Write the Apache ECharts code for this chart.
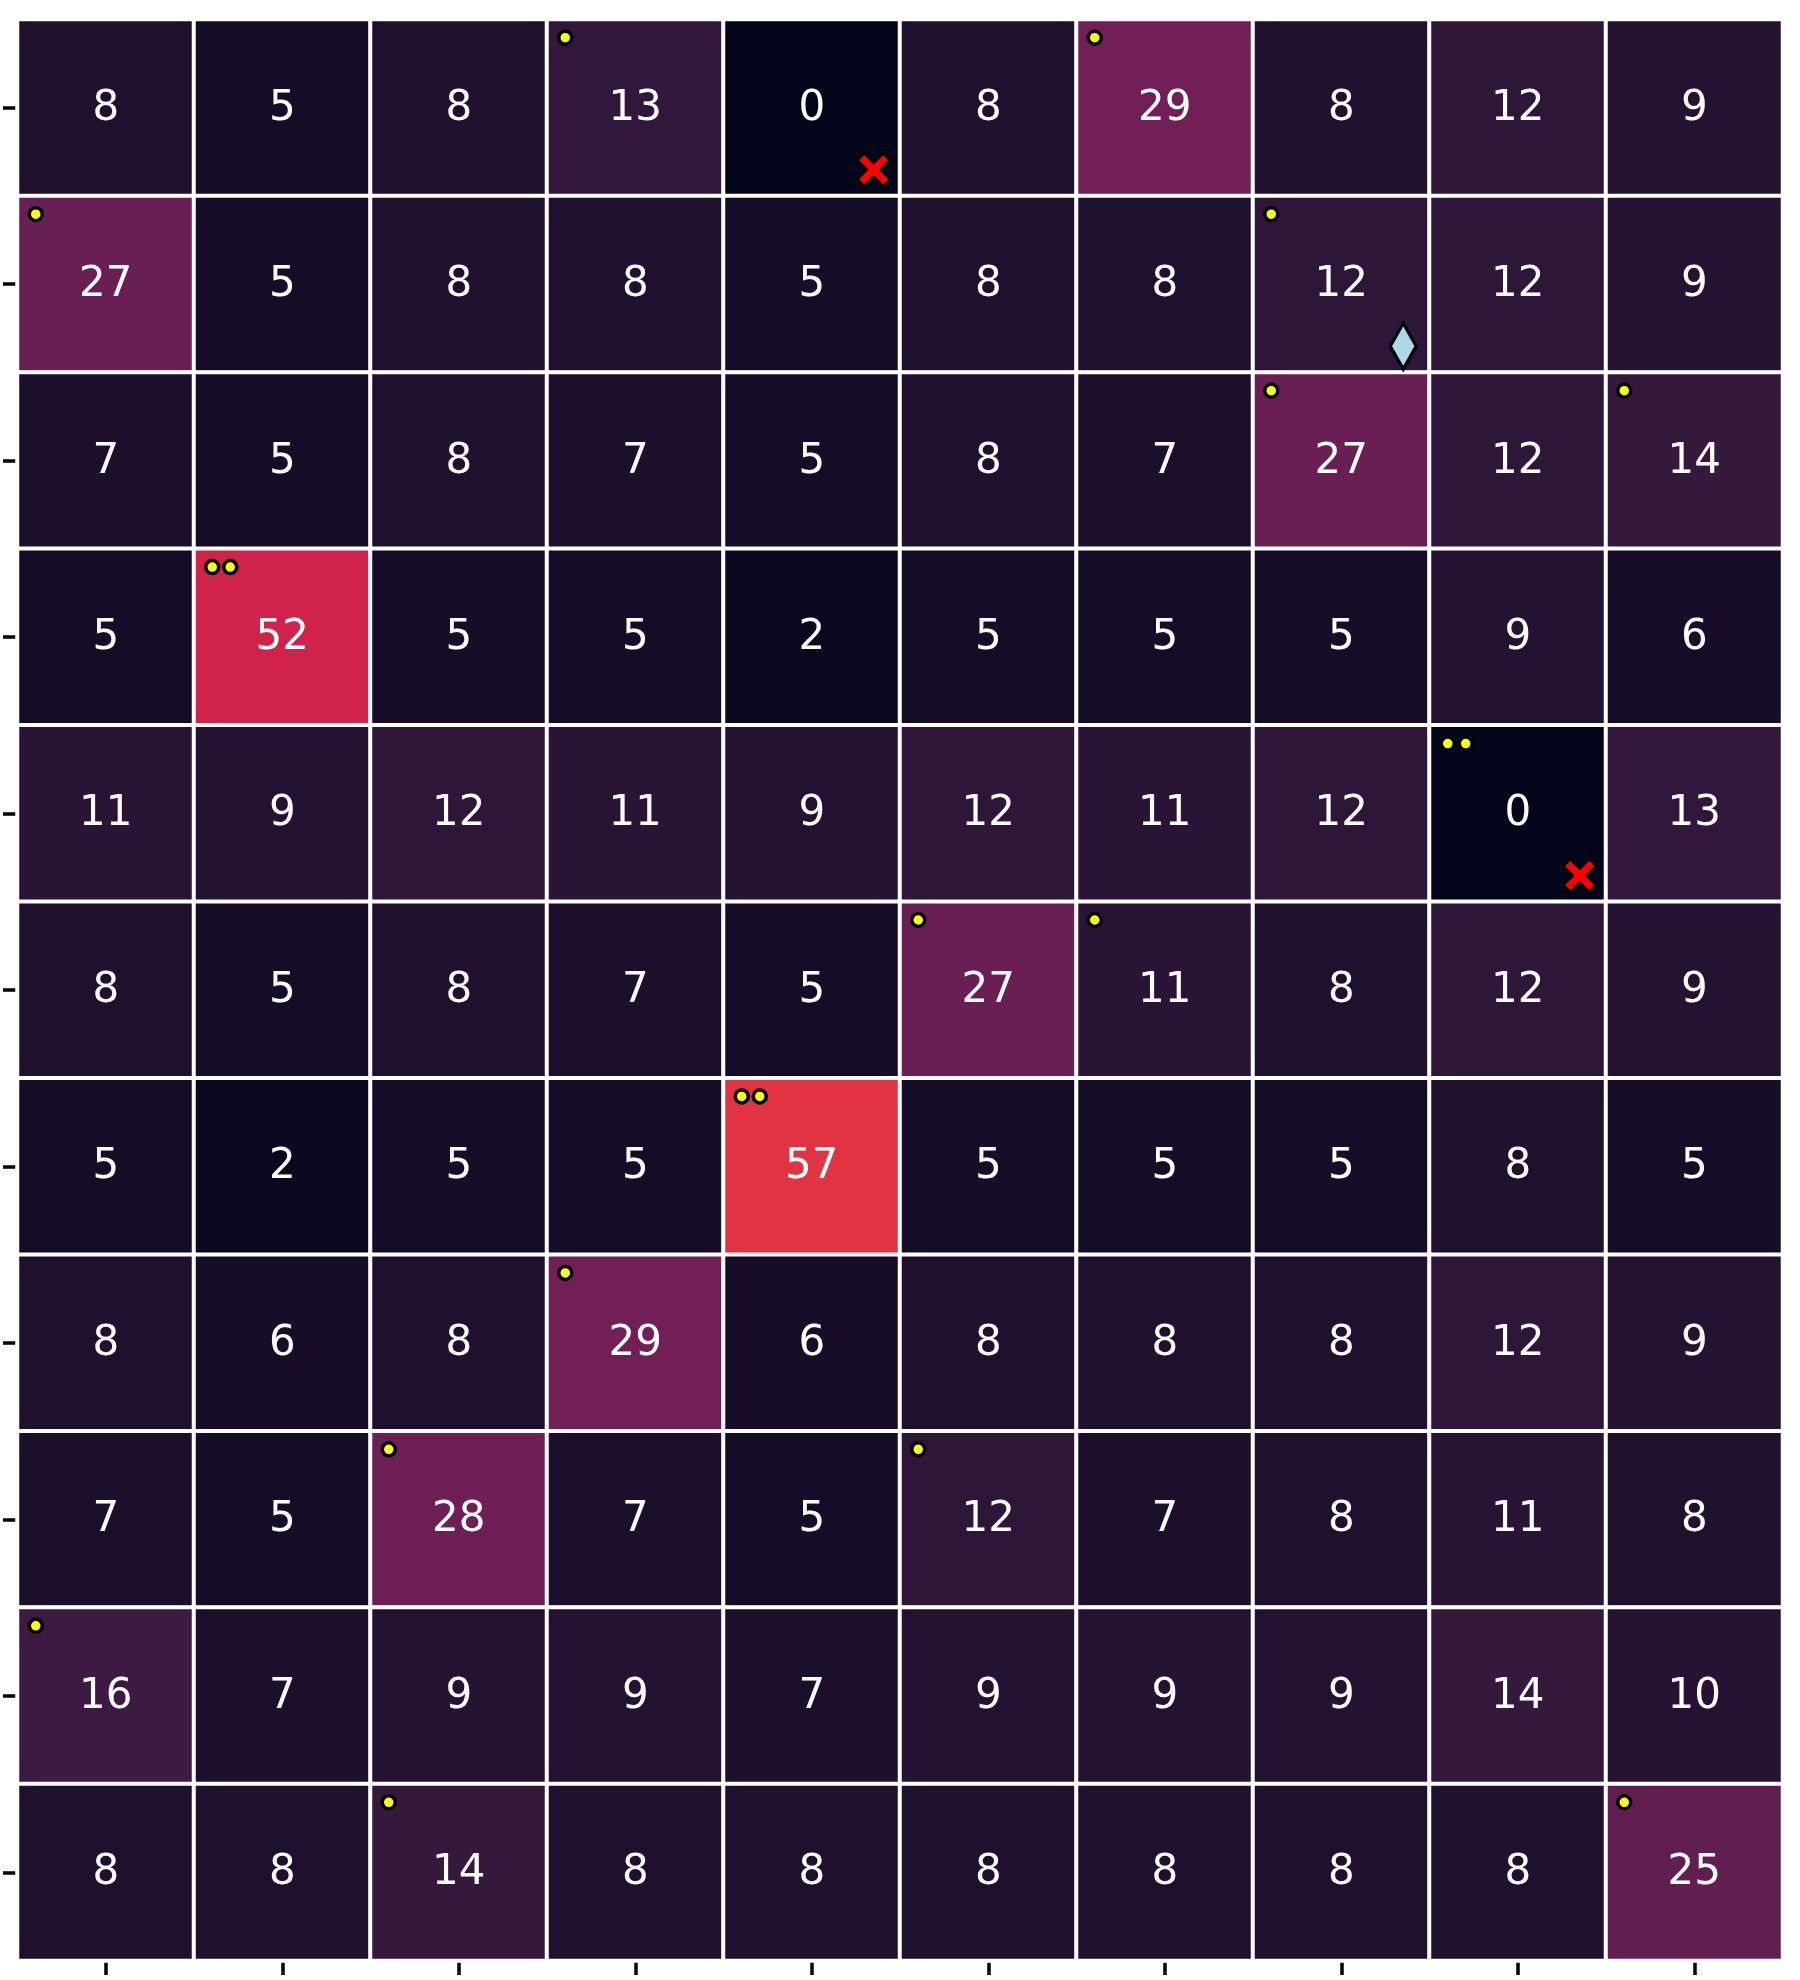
<!DOCTYPE html>
<html>
<head>
<meta charset="utf-8">
<script src="https://cdn.jsdelivr.net/npm/echarts@6/dist/echarts.min.js"></script>
<style>
  html, body { margin: 0; padding: 0; background: #ffffff; }
  #chart { width: 1800px; height: 1980px; }
</style>
</head>
<body>
<div id="chart"></div>
<script>
// ---- data (rows top to bottom, 10 columns each) ----
const columns = ['0', '1', '2', '3', '4', '5', '6', '7', '8', '9'];
const rowNames = ['0', '1', '2', '3', '4', '5', '6', '7', '8', '9', '10'];

const row00 = [8, 5, 8, 13, 0, 8, 29, 8, 12, 9];
const row01 = [27, 5, 8, 8, 5, 8, 8, 12, 12, 9];
const row02 = [7, 5, 8, 7, 5, 8, 7, 27, 12, 14];
const row03 = [5, 52, 5, 5, 2, 5, 5, 5, 9, 6];
const row04 = [11, 9, 12, 11, 9, 12, 11, 12, 0, 13];
const row05 = [8, 5, 8, 7, 5, 27, 11, 8, 12, 9];
const row06 = [5, 2, 5, 5, 57, 5, 5, 5, 8, 5];
const row07 = [8, 6, 8, 29, 6, 8, 8, 8, 12, 9];
const row08 = [7, 5, 28, 7, 5, 12, 7, 8, 11, 8];
const row09 = [16, 7, 9, 9, 7, 9, 9, 9, 14, 10];
const row10 = [8, 8, 14, 8, 8, 8, 8, 8, 8, 25];

// annotations: [row, col, count]
const dotCells = [
  [0, 3, 1], [0, 6, 1], [1, 0, 1], [1, 7, 1], [2, 7, 1], [2, 9, 1],
  [3, 1, 2], [4, 8, 2], [5, 5, 1], [5, 6, 1], [6, 4, 2], [7, 3, 1],
  [8, 2, 1], [8, 5, 1], [9, 0, 1], [10, 2, 1], [10, 9, 1]
];
// [row, col]
const crossCells = [[0, 4], [4, 8]];
const diamondCells = [[1, 7]];

const rows = [row00, row01, row02, row03, row04, row05, row06, row07, row08, row09, row10];

// rocket colormap stops, evenly spaced from 0 to 1
const rocket = ['#03051a', '#1c0f2c', '#35193e', '#521c4a', '#701f57', '#8e1b58', '#ad1759', '#cb1b4f',
                '#e13342', '#ea5449', '#f37651', '#f49570', '#f6b48f', '#f8cfb6', '#faebdd'];

const heatData = [];
rows.forEach((r, ri) => r.forEach((v, ci) => heatData.push([ci, ri, v])));

const dotFirst = dotCells.map(d => [d[1], d[0]]);
const dotSecond = dotCells.filter(d => d[2] >= 2).map(d => [d[1], d[0]]);
const crossData = crossCells.map(d => [d[1], d[0]]);
const diamondData = diamondCells.map(d => [d[1], d[0]]);

const chart = echarts.init(document.getElementById('chart'), null, { renderer: 'canvas' });

const tickStyle = { show: true, alignWithLabel: true, inside: false, length: 14.5, lineStyle: { color: '#000', width: 3.5 } };

const dotStyle = { color: '#ffff00', borderColor: '#000000', borderWidth: 3.5, opacity: 1 };

chart.setOption({
  animation: false,
  backgroundColor: '#ffffff',
  grid: { left: 17.5, top: 19.5, width: 1765, height: 1941, containLabel: false },
  xAxis: {
    type: 'category', data: columns, position: 'bottom',
    axisLine: { show: false }, axisLabel: { show: false },
    axisTick: tickStyle, splitLine: { show: false }
  },
  yAxis: {
    type: 'category', data: rowNames, inverse: true, position: 'left',
    axisLine: { show: false }, axisLabel: { show: false },
    axisTick: tickStyle, splitLine: { show: false }
  },
  visualMap: {
    show: false, type: 'continuous', min: 0, max: 100, dimension: 2, seriesIndex: 0,
    inRange: { color: rocket }
  },
  series: [
    {
      type: 'heatmap', data: heatData, z: 2,
      itemStyle: { borderColor: '#ffffff', borderWidth: 4 },
      label: {
        show: true, color: '#ffffff', fontFamily: 'DejaVu Sans', fontSize: 42,
        offset: [0, 1],
        formatter: p => String(p.value[2])
      },
      emphasis: { disabled: true }
    },
    {
      type: 'scatter', data: dotFirst, z: 5, symbol: 'circle', symbolSize: 13,
      symbolOffset: [-70, -70], itemStyle: dotStyle, silent: true
    },
    {
      type: 'scatter', data: dotSecond, z: 5, symbol: 'circle', symbolSize: 13,
      symbolOffset: [-52, -70], itemStyle: dotStyle, silent: true
    },
    {
      type: 'scatter', data: crossData, z: 5,
      symbol: 'path://M0,22 L22,0 L50,28 L78,0 L100,22 L72,50 L100,78 L78,100 L50,72 L22,100 L0,78 L28,50 Z',
      symbolSize: 34, symbolOffset: [62, 62],
      itemStyle: { color: '#ff0000', borderColor: '#000000', borderWidth: 3.5, opacity: 1 }, silent: true
    },
    {
      type: 'scatter', data: diamondData, z: 5, symbol: 'diamond',
      symbolSize: [26, 46], symbolOffset: [62, 62],
      itemStyle: { color: '#add8e6', borderColor: '#000000', borderWidth: 3.5, opacity: 1 }, silent: true
    }
  ]
});
</script>
</body>
</html>
